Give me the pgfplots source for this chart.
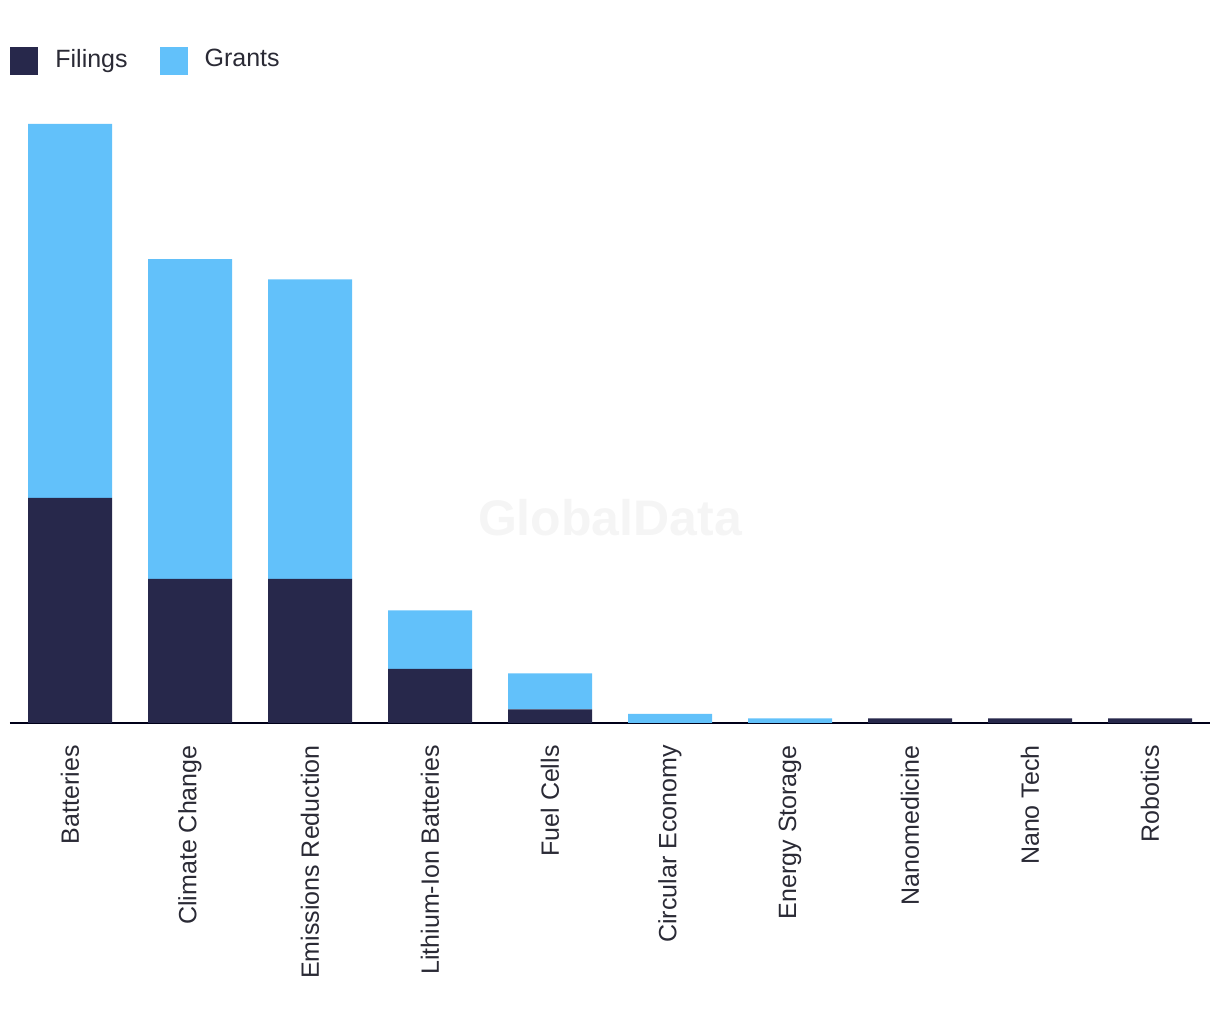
\documentclass[border=0pt]{standalone}
\usepackage{fontspec}
\setmainfont{Liberation Sans}
\usepackage{pgfplots}
\pgfplotsset{compat=1.18}
\definecolor{filings}{HTML}{27284B}
\definecolor{grants}{HTML}{62C1FA}
\definecolor{txt}{HTML}{2A2A35}
\pgfplotsset{
  sqlegend/.style={legend image code/.code={\fill[##1,draw=none] (0pt,-7.5pt) rectangle (14pt,6.5pt);}},
}
\begin{document}
\begin{tikzpicture}
\useasboundingbox (-5pt,-156.5pt) rectangle (605pt,361.5pt);
\begin{axis}[
  at={(0,0)},anchor=south west,
  scale only axis,width=600pt,height=299.5pt,
  ybar stacked,bar width=42pt,
  xmin=-0.5,xmax=9.5,ymin=0,ymax=133,
  axis x line=bottom,axis y line=none,
  axis line style={color=black!90!blue,line width=1pt,-},
  xtick=data,major tick length=0pt,
  xticklabels={Batteries,Climate Change,Emissions Reduction,Lithium-Ion Batteries,Fuel Cells,Circular Economy,Energy Storage,Nanomedicine,Nano Tech,Robotics},
  xticklabel style={rotate=90,anchor=east,inner sep=0pt,font=\fontsize{12.5}{15}\selectfont,text=txt},
  xticklabel shift=11pt,
  clip=false,
  sqlegend,
  legend columns=2,
  legend style={at={(axis description cs:0,1.13)},anchor=north west,draw=none,fill=none,
    inner sep=0pt,font=\fontsize{12.5}{15}\selectfont,text=txt,
    nodes={inner sep=0pt},
    /tikz/every odd column/.append style={column sep=8.5pt},
    /tikz/every even column/.append style={column sep=16pt}},
  legend cell align=left,
]
\node[font=\bfseries\fontsize{25}{30}\selectfont,text=black!4] at (axis cs:4.5,45.6) {GlobalData};
\addplot[fill=filings,draw=none] coordinates {(0,50) (1,32) (2,32) (3,12) (4,3) (5,0) (6,0) (7,1) (8,1) (9,1)};
\addplot[fill=grants,draw=none] coordinates {(0,83) (1,71) (2,66.5) (3,13) (4,8) (5,2) (6,1) (7,0) (8,0) (9,0)};
\legend{Filings,Grants}
\end{axis}
\end{tikzpicture}
\end{document}
